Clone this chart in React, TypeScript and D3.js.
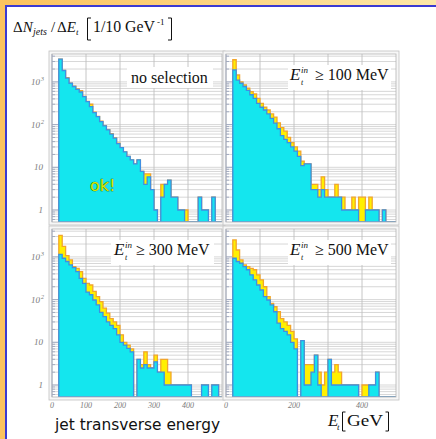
import React from "react";
import * as d3 from "d3";

const W = 436;
const H = 439;

// 10 GeV bins, lower edge 20 GeV
const binEdges = [
  20, 30, 40, 50, 60, 70, 80, 90, 100, 110, 120, 130, 140, 150, 160, 170, 180, 190, 200, 210,
  220, 230, 240, 250, 260, 270, 280, 290, 300, 310, 320, 330, 340, 350, 360, 370, 380, 390, 400,
  410, 420, 430, 440, 450, 460, 470, 480, 490, 500,
];

// no selection
const noSelAll = [
  3400, 1850, 1250, 940, 790, 690, 620, 460, 350, 300, 195, 155, 120, 95, 76, 61, 49, 37, 29, 23,
  18, 15, 12, 15, 8, 7, 7, 3, 1, 0, 4, 4, 5, 2, 2, 1, 1, 1, 0, 0, 0, 2, 1, 1, 0, 2, 0, 0,
];
const noSelCut = [
  3400, 1850, 1230, 930, 780, 670, 580, 450, 345, 265, 190, 153, 118, 93, 75, 60, 48, 36, 29, 23,
  18, 15, 12, 15, 8, 4, 6, 3, 1, 0, 2, 4, 5, 2, 2, 1, 1, 0, 0, 0, 0, 2, 1, 1, 0, 2, 0, 0,
];

// E_t^in >= 100 MeV
const cut100All = [
  3300, 1450, 1000, 850, 710, 590, 520, 410, 315, 255, 220, 178, 150, 110, 85, 70, 50, 38, 30, 24,
  14, 12, 12, 4, 4, 3, 6, 3, 2, 2, 4, 2, 2, 1, 1, 2, 1, 2, 2, 1, 2, 1, 1, 0, 1, 0, 0, 0,
];
const cut100Cut = [
  1900, 1100, 930, 780, 630, 500, 410, 315, 255, 220, 178, 140, 108, 80, 55, 45, 38, 30, 24, 18,
  11, 12, 12, 3, 3, 2, 3, 2, 2, 2, 2, 2, 1, 1, 1, 1, 1, 0, 0, 1, 1, 1, 1, 0, 1, 0, 0, 0,
];

// E_t^in >= 300 MeV
const cut300All = [
  3200, 1770, 1070, 850, 590, 540, 450, 315, 240, 220, 155, 118, 90, 63, 48, 36, 30, 25, 15, 10,
  8.6, 7, 0, 4, 3, 6, 3, 2.5, 5, 2, 4, 4, 2, 1, 1, 1, 1, 1, 1, 0, 0, 0, 1, 1, 0, 1, 1, 0,
];
const cut300Cut = [
  1150, 930, 780, 650, 560, 450, 315, 240, 150, 130, 98, 75, 50, 40, 30, 25, 21, 15, 10, 8.6,
  7.2, 6, 0, 4, 2.5, 3, 2.5, 2.5, 3.5, 2, 2, 1, 1, 1, 1, 1, 1, 1, 1, 0, 0, 0, 1, 1, 0, 1, 1, 0,
];

// E_t^in >= 500 MeV
const cut500All = [
  2500, 1450, 850, 650, 590, 540, 500, 380, 290, 200, 118, 82, 68, 52, 36, 30, 25, 18, 12, 0,
  11, 3, 3, 3, 5, 2, 1, 2, 4, 2, 3, 2, 1, 1, 1, 1, 1, 0, 1, 1, 1, 1, 2, 0, 0, 0, 0, 0,
];
const cut500Cut = [
  930, 780, 710, 590, 500, 380, 290, 220, 168, 118, 98, 75, 52, 28, 21, 18, 15, 10, 7, 0,
  11, 1, 1, 2, 5, 1, 0, 0, 4, 1, 1, 1, 1, 1, 1, 1, 1, 0, 0, 0, 1, 1, 2, 0, 0, 0, 0, 0,
];

const colX = [52, 226];
const rowY = [54, 229];
const PW = 170;
const PH = 168;
const eDomain = [0, 500];
const nDomain = [0.524, 4500];

const leftTicks = [0, 100, 200, 300, 400];
const rightTicks = [0, 200, 400];
const yLabels = [
  { v: 1000, base: "10", sup: "3" },
  { v: 100, base: "10", sup: "2" },
  { v: 10, base: "10", sup: "" },
  { v: 1, base: "1", sup: "" },
];

const panels = [
  { key: "a", col: 0, row: 0, all: noSelAll, cut: noSelCut, cutLabel: "" },
  { key: "b", col: 1, row: 0, all: cut100All, cut: cut100Cut, cutLabel: "100" },
  { key: "c", col: 0, row: 1, all: cut300All, cut: cut300Cut, cutLabel: "300" },
  { key: "d", col: 1, row: 1, all: cut500All, cut: cut500Cut, cutLabel: "500" },
];

const YELLOW = "#fff000";
const ORANGE = "#f2a52c";
const CYAN = "#14e6ee";
const BLUE = "#3f8fe2";
const SERIF = "'Liberation Serif', 'Times New Roman', serif";

function stepPath(vals: number[], x: d3.ScaleLinear<number, number>, y: d3.ScaleLogarithmic<number, number>) {
  const base = y.range()[0];
  const pts: [number, number][] = [[x(binEdges[0]), base]];
  vals.forEach((v, i) => {
    const yy = v > 0 ? y(v) : base;
    pts.push([x(binEdges[i]), yy], [x(binEdges[i + 1]), yy]);
  });
  pts.push([x(binEdges[binEdges.length - 1]), base]);
  return d3.line()(pts) + "Z";
}

function Panel({ p }: { p: (typeof panels)[number] }) {
  const x0 = colX[p.col];
  const y0 = rowY[p.row];
  const x = d3.scaleLinear().domain(eDomain).range([x0, x0 + PW]);
  const y = d3.scaleLog().domain(nDomain).range([y0 + PH, y0]).clamp(true);
  const minor = y.ticks();
  const clipId = `clip-${p.key}`;
  const xt = p.col === 0 ? leftTicks : rightTicks;

  return (
    <g>
      <defs>
        <clipPath id={clipId}>
          <rect x={x0} y={y0} width={PW} height={PH} />
        </clipPath>
      </defs>
      {/* outer frame */}
      <rect x={x0 - 3} y={y0 - 3} width={PW + 6} height={PH + 6} fill="#f7f7f7" stroke="#c0c0c0" strokeWidth={0.8} />
      <rect x={x0} y={y0} width={PW} height={PH} fill="#ffffff" />
      {/* grid */}
      {minor.map((v) => (
        <line key={`h${v}`} x1={x0} x2={x0 + PW} y1={y(v)} y2={y(v)} stroke="#cdcdcd" strokeWidth={0.8} />
      ))}
      {[100, 200, 300, 400].map((e) => (
        <line key={`v${e}`} x1={x(e)} x2={x(e)} y1={y0} y2={y0 + PH} stroke="#c0c0c0" strokeWidth={0.9} />
      ))}
      <g clipPath={`url(#${clipId})`}>
        <path d={stepPath(p.all, x, y)} fill={YELLOW} stroke={ORANGE} strokeWidth={1.3} strokeLinejoin="miter" />
        <path d={stepPath(p.cut, x, y)} fill={CYAN} stroke={BLUE} strokeWidth={1.3} strokeLinejoin="miter" />
      </g>
      {/* axis ticks */}
      <line x1={x0} x2={x0} y1={y0} y2={y0 + PH} stroke="#9aa6c4" strokeWidth={1} />
      {minor.map((v) => {
        const major = Math.abs(Math.log10(v) - Math.round(Math.log10(v))) < 1e-6;
        return (
          <line key={`t${v}`} x1={x0} x2={x0 + (major ? 6 : 3)} y1={y(v)} y2={y(v)} stroke="#8a96b8" strokeWidth={0.7} />
        );
      })}
      <rect x={x0} y={y0} width={PW} height={PH} fill="none" stroke="#b4b4b4" strokeWidth={0.8} />
      {/* x tick labels */}
      {p.row === 1 &&
        xt.map((e) => (
          <text key={`xl${e}`} x={x(e)} y={408} textAnchor="middle" fontFamily={SERIF} fontStyle="italic" fontSize={8} fill="#7a7a7a">
            {e}
          </text>
        ))}
      {/* y tick labels */}
      {p.col === 0 &&
        yLabels.map((l) => (
          <text key={`yl${l.v}`} x={x0 - (l.sup ? 12 : 9)} y={y(l.v) + 3} textAnchor="end" fontFamily={SERIF} fontStyle="italic" fontSize={9} fill="#7a7a7a">
            {l.base}
          </text>
        ))}
      {p.col === 0 &&
        yLabels
          .filter((l) => l.sup)
          .map((l) => (
            <text key={`ys${l.v}`} x={x0 - 11} y={y(l.v) - 0.5} fontFamily={SERIF} fontStyle="italic" fontSize={6} fill="#7a7a7a">
              {l.sup}
            </text>
          ))}
      {/* label box */}
      {p.cutLabel === "" ? (
        <g>
          <rect x={x0 + 75} y={y0 + 13} width={86} height={21} fill="#ffffff" />
          <text x={x0 + 79} y={y0 + 29} fontFamily={SERIF} fontSize={16} fill="#111">
            no selection
          </text>
        </g>
      ) : (
        <g>
          <rect x={x0 + (p.col === 0 ? 59 : 62)} y={y0 + 11} width={103} height={25} fill="#ffffff" />
          <text x={x0 + (p.col === 0 ? 62 : 64)} y={y0 + 26} fontFamily={SERIF} fontStyle="italic" fontSize={17} fill="#111">
            E
          </text>
          <text x={x0 + (p.col === 0 ? 73 : 75)} y={y0 + 19} fontFamily={SERIF} fontStyle="italic" fontSize={9} fill="#111">
            in
          </text>
          <text x={x0 + (p.col === 0 ? 73 : 75)} y={y0 + 31} fontFamily={SERIF} fontStyle="italic" fontSize={8} fill="#111">
            t
          </text>
          <text x={x0 + (p.col === 0 ? 84 : 89)} y={y0 + 26} fontFamily={SERIF} fontSize={16} fill="#111">
            {`≥ ${p.cutLabel} MeV`}
          </text>
        </g>
      )}
    </g>
  );
}

export default function App() {
  return (
    <svg
      width={W}
      height={H}
      viewBox={`0 0 ${W} ${H}`}
      style={{ position: "absolute", left: 0, top: 0, display: "block" }}
    >
      <defs>
        <linearGradient id="topStrip" x1="0" x2="1" y1="0" y2="0">
          <stop offset="0" stopColor="#fbc25c" />
          <stop offset="1" stopColor="#fde8a8" />
        </linearGradient>
      </defs>
      <rect x={0} y={0} width={W} height={H} fill="#ffffff" />
      <rect x={0} y={0} width={W} height={5} fill="url(#topStrip)" />
      <rect x={0} y={0} width={5} height={H} fill="#fbc35e" />
      <rect x={5} y={5} width={W - 5} height={2} fill="#3a3ad2" />
      <rect x={5} y={5} width={2} height={H - 5} fill="#3a3ad2" />

      {/* title */}
      <g fontFamily={SERIF} fill="#111">
        <text x={13} y={32} fontSize={15}>
          Δ<tspan fontStyle="italic">N</tspan>
        </text>
        <text x={33} y={35} fontSize={10} fontStyle="italic">
          jets
        </text>
        <text x={51} y={32} fontSize={15}>
          /
        </text>
        <text x={57} y={32} fontSize={15}>
          Δ<tspan fontStyle="italic">E</tspan>
        </text>
        <text x={76} y={35} fontSize={9} fontStyle="italic">
          t
        </text>
        <path d="M91,18 L87.5,18 L87.5,40 L91,40" fill="none" stroke="#111" strokeWidth={1} />
        <text x={93} y={32} fontSize={16} textLength={62} lengthAdjust="spacingAndGlyphs">
          1/10 GeV
        </text>
        <text x={157} y={25} fontSize={9}>
          -1
        </text>
        <path d="M168,18 L171.5,18 L171.5,40 L168,40" fill="none" stroke="#111" strokeWidth={1} />
      </g>

      {panels.map((p) => (
        <Panel key={p.key} p={p} />
      ))}

      <text
        x={90}
        y={191}
        fontFamily="'DejaVu Sans', sans-serif"
        fontSize={16}
        fill="#d6ea00"
        stroke="#2f5a00"
        strokeWidth={0.7}
        paintOrder="stroke"
      >
        ok!
      </text>

      <text x={55} y={430} fontFamily="'DejaVu Sans', sans-serif" fontSize={15} fill="#111" textLength={165} lengthAdjust="spacingAndGlyphs">
        jet transverse energy
      </text>

      <g fontFamily={SERIF} fill="#111">
        <text x={328} y={426} fontSize={17} fontStyle="italic">
          E
        </text>
        <text x={337} y={430} fontSize={9} fontStyle="italic">
          t
        </text>
        <path d="M345.5,412 L342.5,412 L342.5,431 L345.5,431" fill="none" stroke="#111" strokeWidth={1} />
        <text x={347} y={426} fontSize={17} textLength={36} lengthAdjust="spacingAndGlyphs">
          GeV
        </text>
        <path d="M385.5,412 L388.5,412 L388.5,431 L385.5,431" fill="none" stroke="#111" strokeWidth={1} />
      </g>
    </svg>
  );
}
